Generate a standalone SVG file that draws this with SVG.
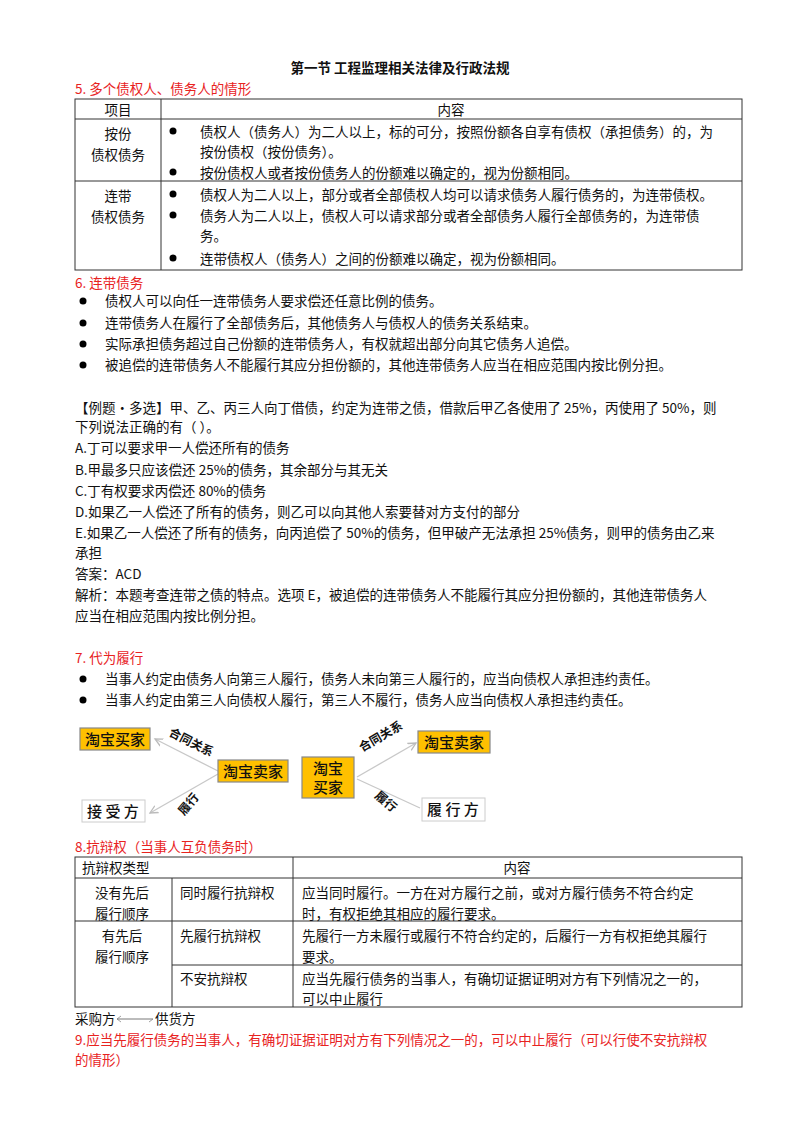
<svg xmlns="http://www.w3.org/2000/svg" width="800" height="1132" viewBox="0 0 800 1132">
<style>
text{font-family:"Noto Sans CJK SC","Liberation Sans",sans-serif;font-size:13.5px;fill:#111}
.r{fill:#e8231f}
.c{text-anchor:middle}
.b{font-weight:bold}
.tb{fill:none;stroke:#333;stroke-width:1}
.ln{stroke:#333;stroke-width:1}
.ob{fill:#ffc000;stroke:#888;stroke-width:1.2}
.wb{fill:#fff;stroke:#ccc;stroke-width:1}
.bx{font-size:15px;font-weight:500}
.cn{stroke:#c8c8c8;stroke-width:1.3;fill:none}
.lb{font-size:12px;font-weight:bold}
</style>
<defs>
<marker id="ar" markerWidth="8" markerHeight="8" refX="6" refY="4" orient="auto"><path d="M0,1 L6,4 L0,7" fill="none" stroke="#bbb"/></marker>
</defs>
<rect width="800" height="1132" fill="#fff"/>
<text x="400" y="73" class="c b">第一节 工程监理相关法律及行政法规</text>
<text x="75" y="94" class="r">5. 多个债权人、债务人的情形</text>
<g id="table1">
<rect x="75" y="99" width="667" height="171" class="tb"/>
<line x1="161" y1="99" x2="161" y2="270" class="ln"/>
<line x1="75" y1="119" x2="742" y2="119" class="ln"/>
<line x1="75" y1="181" x2="742" y2="181" class="ln"/>
<text x="118" y="115" class="c">项目</text>
<text x="451" y="115" class="c">内容</text>
<text x="118" y="139" class="c">按份</text>
<text x="118" y="160" class="c">债权债务</text>
<circle cx="173" cy="131" r="3.5"/><circle cx="173" cy="172" r="3.5"/>
<text x="200" y="137">债权人（债务人）为二人以上，标的可分，按照份额各自享有债权（承担债务）的，为</text>
<text x="200" y="157">按份债权（按份债务）。</text>
<text x="200" y="178">按份债权人或者按份债务人的份额难以确定的，视为份额相同。</text>
<text x="118" y="201" class="c">连带</text>
<text x="118" y="222" class="c">债权债务</text>
<circle cx="173" cy="194" r="3.5"/><circle cx="173" cy="215" r="3.5"/><circle cx="173" cy="258" r="3.5"/>
<text x="200" y="200">债权人为二人以上，部分或者全部债权人均可以请求债务人履行债务的，为连带债权。</text>
<text x="200" y="221">债务人为二人以上，债权人可以请求部分或者全部债务人履行全部债务的，为连带债</text>
<text x="200" y="241">务。</text>
<text x="200" y="264">连带债权人（债务人）之间的份额难以确定，视为份额相同。</text>
</g>
<text x="75" y="288" class="r">6. 连带债务</text>
<circle cx="83" cy="301" r="3.5"/><circle cx="83" cy="323" r="3.5"/><circle cx="83" cy="344" r="3.5"/><circle cx="83" cy="365" r="3.5"/>
<text x="105" y="306">债权人可以向任一连带债务人要求偿还任意比例的债务。</text>
<text x="105" y="328">连带债务人在履行了全部债务后，其他债务人与债权人的债务关系结束。</text>
<text x="105" y="349">实际承担债务超过自己份额的连带债务人，有权就超出部分向其它债务人追偿。</text>
<text x="105" y="370">被追偿的连带债务人不能履行其应分担份额的，其他连带债务人应当在相应范围内按比例分担。</text>
<text x="75" y="413">【例题·多选】甲、乙、丙三人向丁借债，约定为连带之债，借款后甲乙各使用了 25%，丙使用了 50%，则</text>
<text x="75" y="432">下列说法正确的有（  ）。</text>
<text x="75" y="453">A.丁可以要求甲一人偿还所有的债务</text>
<text x="75" y="475">B.甲最多只应该偿还 25%的债务，其余部分与其无关</text>
<text x="75" y="496">C.丁有权要求丙偿还 80%的债务</text>
<text x="75" y="517">D.如果乙一人偿还了所有的债务，则乙可以向其他人索要替对方支付的部分</text>
<text x="75" y="538">E.如果乙一人偿还了所有的债务，向丙追偿了 50%的债务，但甲破产无法承担 25%债务，则甲的债务由乙来</text>
<text x="75" y="558">承担</text>
<text x="75" y="579">答案：ACD</text>
<text x="75" y="600">解析：本题考查连带之债的特点。选项 E，被追偿的连带债务人不能履行其应分担份额的，其他连带债务人</text>
<text x="75" y="621">应当在相应范围内按比例分担。</text>
<text x="75" y="663" class="r">7. 代为履行</text>
<circle cx="83" cy="679" r="3.5"/><circle cx="83" cy="700" r="3.5"/>
<text x="105" y="684">当事人约定由债务人向第三人履行，债务人未向第三人履行的，应当向债权人承担违约责任。</text>
<text x="105" y="705">当事人约定由第三人向债权人履行，第三人不履行，债务人应当向债权人承担违约责任。</text>
<g id="connectors">
<line x1="218" y1="771" x2="155" y2="739" class="cn" marker-end="url(#ar)"/>
<line x1="218" y1="774" x2="150" y2="813" class="cn" marker-end="url(#ar)"/>
<line x1="357" y1="777" x2="416" y2="743" class="cn" marker-end="url(#ar)"/>
<line x1="357" y1="779" x2="420" y2="808" class="cn"/>
<text class="lb" transform="translate(168,735) rotate(27)">合同关系</text>
<text class="lb" transform="translate(184,816) rotate(-50)">履行</text>
<text class="lb" transform="translate(362,752) rotate(-30)">合同关系</text>
<text class="lb" transform="translate(374,797) rotate(40)">履行</text>
</g>
<g id="n1"><rect x="80" y="728" width="70" height="22" class="ob"/><text x="115" y="745" class="c bx">淘宝买家</text></g>
<g id="n2"><rect x="218" y="760" width="70" height="22" class="ob"/><text x="253" y="777" class="c bx">淘宝卖家</text></g>
<g id="n3"><rect x="82" y="800" width="63" height="22" class="wb"/><text x="113" y="817" class="c bx">接 受 方</text></g>
<g id="n4"><rect x="302" y="757" width="52" height="41" class="ob" stroke="none"/><text x="328" y="774" class="c bx">淘宝</text><text x="328" y="793" class="c bx">买家</text></g>
<g id="n5"><rect x="418" y="731" width="72" height="22" class="ob" stroke="none"/><text x="454" y="748" class="c bx">淘宝卖家</text></g>
<g id="n6"><rect x="422" y="798" width="63" height="23" class="wb"/><text x="453" y="815" class="c bx">履 行 方</text></g>
<text x="75" y="852" class="r">8.抗辩权（当事人互负债务时）</text>
<g id="table2">
<rect x="75" y="857" width="667" height="150" class="tb"/>
<line x1="75" y1="878" x2="742" y2="878" class="ln"/>
<line x1="75" y1="921" x2="742" y2="921" class="ln"/>
<line x1="172" y1="965" x2="742" y2="965" class="ln"/>
<line x1="172" y1="878" x2="172" y2="1007" class="ln"/>
<line x1="293" y1="857" x2="293" y2="1007" class="ln"/>
<text x="82" y="873">抗辩权类型</text>
<text x="517" y="873" class="c">内容</text>
<text x="122" y="898" class="c">没有先后</text>
<text x="122" y="919" class="c">履行顺序</text>
<text x="180" y="898">同时履行抗辩权</text>
<text x="302" y="898">应当同时履行。一方在对方履行之前，或对方履行债务不符合约定</text>
<text x="302" y="919">时，有权拒绝其相应的履行要求。</text>
<text x="122" y="941" class="c">有先后</text>
<text x="122" y="962" class="c">履行顺序</text>
<text x="180" y="941">先履行抗辩权</text>
<text x="302" y="941">先履行一方未履行或履行不符合约定的，后履行一方有权拒绝其履行</text>
<text x="302" y="962">要求。</text>
<text x="180" y="984">不安抗辩权</text>
<text x="302" y="984">应当先履行债务的当事人，有确切证据证明对方有下列情况之一的，</text>
<text x="302" y="1004">可以中止履行</text>
</g>
<text x="75" y="1024">采购方</text>
<line x1="117" y1="1019" x2="153" y2="1019" stroke="#555" stroke-width="0.8"/>
<path d="M121,1016 L117,1019 L121,1022 M149,1022 L153,1019" fill="none" stroke="#888" stroke-width="0.8"/>
<text x="155" y="1024">供货方</text>
<text x="75" y="1045" class="r">9.应当先履行债务的当事人，有确切证据证明对方有下列情况之一的，可以中止履行（可以行使不安抗辩权</text>
<text x="75" y="1065" class="r">的情形）</text>
</svg>
